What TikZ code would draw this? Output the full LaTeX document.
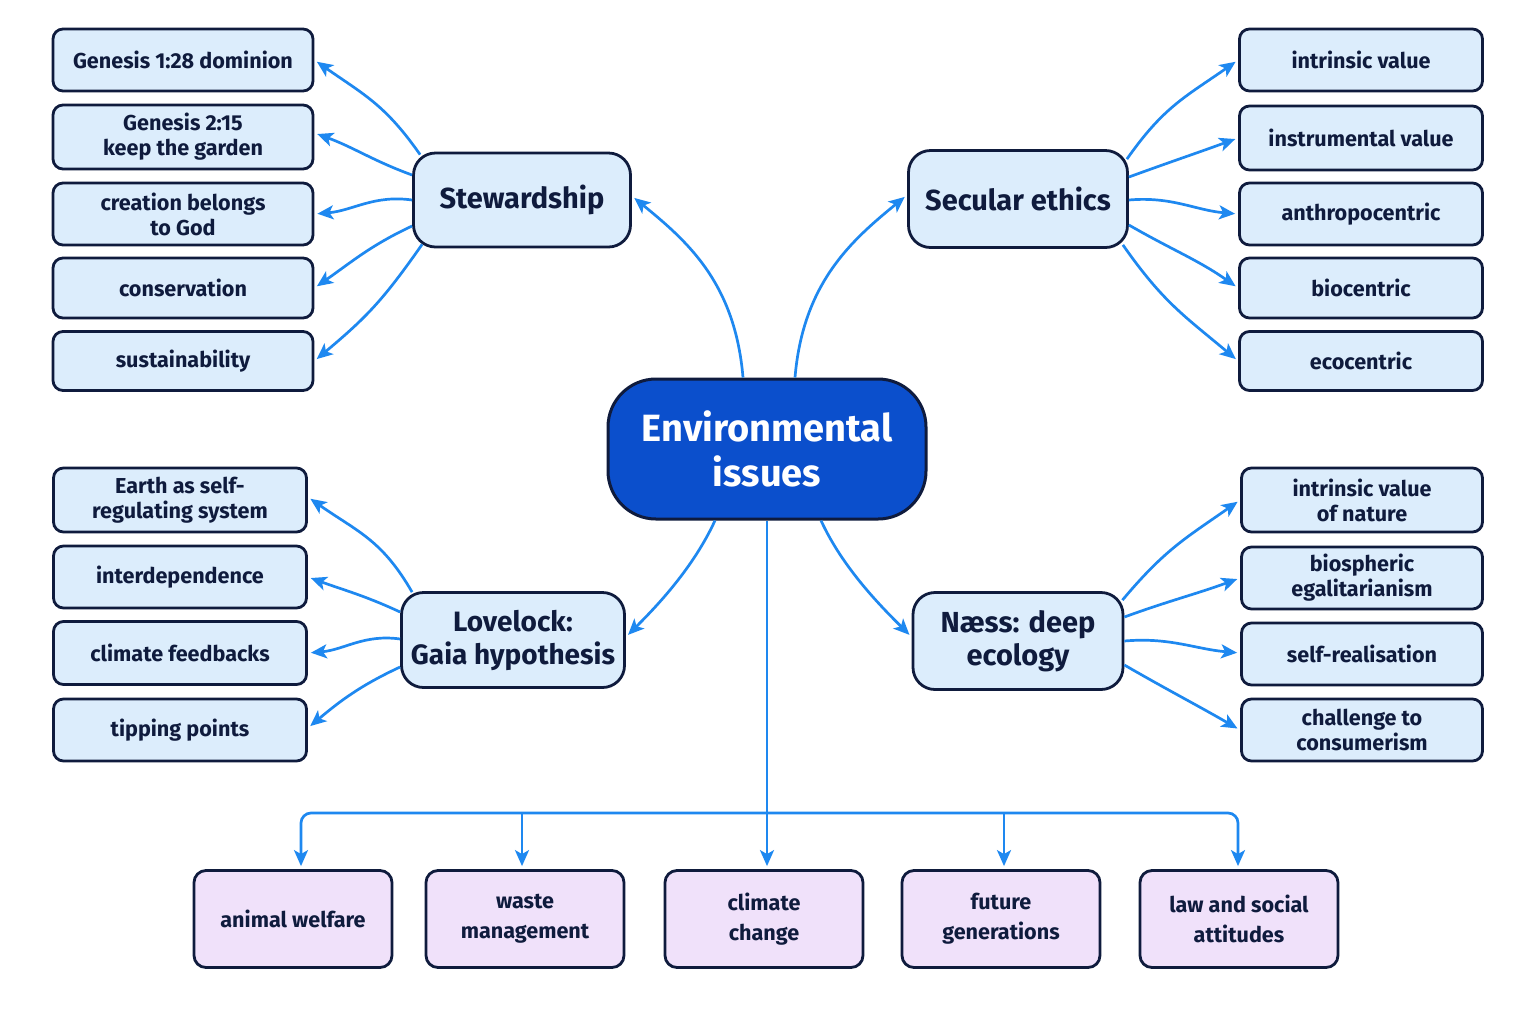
\documentclass[tikz,border=0pt]{standalone}
\usepackage{fontspec}
\setmainfont{Fira Sans}
\usetikzlibrary{arrows.meta,calc}
\definecolor{navy}{HTML}{0F1B3D}
\definecolor{leafblue}{HTML}{DCEDFC}
\definecolor{lav}{HTML}{F0E1FA}
\definecolor{hubblue}{HTML}{0B4FCC}
\definecolor{conn}{HTML}{1E88F0}
\tikzset{
  box/.style={draw=navy, line width=1.4pt, fill=leafblue, align=center, text=navy, inner sep=0pt, font=\bfseries\fontsize{10.8}{12.5}\selectfont},
  leaf/.style={box, rounded corners=5pt, minimum height=31pt},
  lw/.style={leaf, minimum width=130pt},
  rw/.style={leaf, minimum width=121.5pt},
  lw2/.style={leaf, minimum width=126.5pt, minimum height=32pt},
  rw2/.style={leaf, minimum width=120.5pt, minimum height=32pt},
  hub/.style={box, rounded corners=11pt, font=\bfseries\fontsize{14.5}{16.8}\selectfont},
  botbox/.style={box, fill=lav, rounded corners=6pt, minimum width=99pt, minimum height=48.5pt, font=\bfseries\fontsize{10.8}{15}\selectfont},
  centre/.style={draw=navy, line width=1.5pt, fill=hubblue, text=white, align=center, inner sep=0pt, rounded corners=24pt, minimum width=159pt, minimum height=70pt, font=\bfseries\fontsize{19}{22.5}\selectfont},
  link/.style={draw=conn, line width=1.35pt, -{Stealth[length=8pt,width=7pt,inset=2pt]}, shorten >=1.5pt},
}
\begin{document}
\begin{tikzpicture}[x=0.5pt,y=-0.5pt]
\useasboundingbox[fill=white] (0,0) rectangle (1536,1024);
% centre
\node[centre] (env) at (767,449) {Environmental\\issues};
% hubs
\node[hub, minimum width=108.5pt, minimum height=47pt] (stew) at (522,200) {Stewardship};
\node[hub, minimum width=109.5pt, minimum height=48.5pt] (sec) at (1018,199) {Secular ethics};
\node[hub, minimum width=111.5pt, minimum height=47.5pt, font=\bfseries\fontsize{14}{16.5}\selectfont] (gaia) at (513,640) {Lovelock:\\Gaia hypothesis};
\node[hub, minimum width=105pt, minimum height=48.5pt] (naess) at (1018,641) {Næss: deep\\ecology};
% stewardship leaves
\node[lw] (s1) at (183,60) {Genesis 1:28 dominion};
\node[lw, minimum height=32pt] (s2) at (183,137) {Genesis 2:15\\keep the garden};
\node[lw] (s3) at (183,214) {creation belongs\\to God};
\node[lw, minimum height=30pt] (s4) at (183,288) {conservation};
\node[lw, minimum height=29.5pt] (s5) at (183,361) {sustainability};
% secular leaves
\node[rw] (e1) at (1361,60) {intrinsic value};
\node[rw, minimum height=32pt] (e2) at (1361,138) {instrumental value};
\node[rw] (e3) at (1361,214) {anthropocentric};
\node[rw, minimum height=30pt] (e4) at (1361,288) {biocentric};
\node[rw, minimum height=29.5pt] (e5) at (1361,361) {ecocentric};
% gaia leaves
\node[lw2] (g1) at (180,500) {Earth as self-\\regulating system};
\node[lw2, minimum height=31pt] (g2) at (180,577) {interdependence};
\node[lw2, minimum height=31.5pt] (g3) at (180,653) {climate feedbacks};
\node[lw2, minimum height=31pt] (g4) at (180,730) {tipping points};
% naess leaves
\node[rw2] (n1) at (1362,500) {intrinsic value\\of nature};
\node[rw2, minimum height=31pt] (n2) at (1362,578) {biospheric\\egalitarianism};
\node[rw2, minimum height=31pt] (n3) at (1362,654) {self-realisation};
\node[rw2, minimum height=31pt] (n4) at (1362,730) {challenge to\\consumerism};
% bottom
\node[botbox] (b1) at (293,919) {animal welfare};
\node[botbox] (b2) at (525,919) {waste\\management};
\node[botbox] (b3) at (764,919) {climate\\change};
\node[botbox] (b4) at (1001,919) {future\\generations};
\node[botbox] (b5) at (1239,919) {law and social\\attitudes};

% centre to hubs
\draw[link] ([xshift=-12pt]env.north) .. controls +(-8,-95) and +(55,45) .. ([yshift=2pt]stew.east);
\draw[link] ([xshift=14pt]env.north) .. controls +(8,-95) and +(-55,45) .. ([yshift=2pt]sec.west);
\draw[link] ([xshift=-26pt]env.south) .. controls +(-22,48) and +(30,-30) .. ([yshift=1.5pt]gaia.east);
\draw[link] ([xshift=27pt]env.south) .. controls +(22,48) and +(-30,-30) .. ([yshift=2pt]naess.west);

% stewardship
\draw[link] ([xshift=4pt,yshift=-1.5pt]stew.north west) to[out=125,in=-35,looseness=1.1] (s1.east);
\draw[link] ([yshift=12.5pt]stew.west) to[out=160,in=-20] ([yshift=2pt]s2.east);
\draw[link] (stew.west) to[out=172,in=5] (s3.east);
\draw[link] ([yshift=-13pt]stew.west) to[out=205,in=35] (s4.east);
\draw[link] ([xshift=5pt,yshift=2pt]stew.south west) to[out=235,in=40,looseness=1.1] (s5.east);
% secular
\draw[link] ([xshift=-1pt,yshift=-5pt]sec.north east) to[out=55,in=215,looseness=1.1] (e1.west);
\draw[link] ([yshift=11pt]sec.east) to[out=20,in=200] (e2.west);
\draw[link] ([yshift=-0.5pt]sec.east) to[out=5,in=175] (e3.west);
\draw[link] ([yshift=-13pt]sec.east) to[out=-30,in=145] (e4.west);
\draw[link] ([xshift=-3pt,yshift=2pt]sec.south east) to[out=-55,in=140,looseness=1.1] (e5.west);
% gaia
\draw[link] ([xshift=6pt,yshift=-0.5pt]gaia.north west) to[out=120,in=-35,looseness=1.1] ([yshift=1.5pt]g1.east);
\draw[link] ([yshift=14pt]gaia.west) to[out=155,in=-20] (g2.east);
\draw[link] ([yshift=0.5pt]gaia.west) to[out=172,in=5] (g3.east);
\draw[link] ([yshift=-13.5pt]gaia.west) to[out=205,in=40] ([yshift=1pt]g4.east);
% naess
\draw[link] ([xshift=-1pt,yshift=-4.5pt]naess.north east) to[out=50,in=215,looseness=1.1] (n1.west);
\draw[link] ([yshift=12pt]naess.east) to[out=20,in=200] (n2.west);
\draw[link] (naess.east) to[out=5,in=175] ([yshift=0.5pt]n3.west);
\draw[link] ([yshift=-12pt]naess.east) to[out=-30,in=150] (n4.west);

% bus
\coordinate (bus) at (767,813);
\coordinate (t1) at ([xshift=4pt]b1.north);
\coordinate (t2) at ([xshift=-1.5pt]b2.north);
\coordinate (t4) at ([xshift=1.5pt]b4.north);
\coordinate (t5) at ([xshift=-0.5pt]b5.north);
\draw[link] (env.south) -- (env.south |- b3.north);
\draw[link, rounded corners=5pt] (bus) -| (t1);
\draw[link, rounded corners=5pt] (bus) -| (t5);
\draw[link] (bus -| t2) -- (t2);
\draw[link] (bus -| t4) -- (t4);
\end{tikzpicture}
\end{document}
